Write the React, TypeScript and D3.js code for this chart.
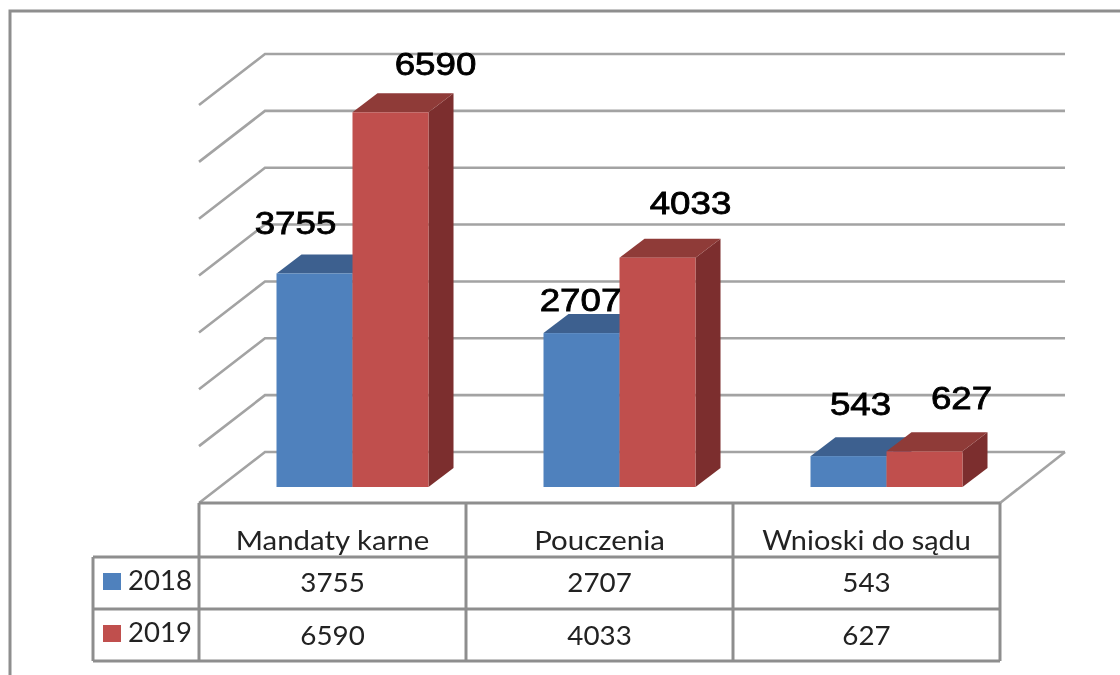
import React from 'react';
import * as d3 from 'd3';

const categories = ['Mandaty karne', 'Pouczenia', 'Wnioski do sądu'];
const seriesNames = ['2018', '2019'];
const values2018 = [3755, 2707, 543];
const values2019 = [6590, 4033, 627];
const gridTicks = [0, 1000, 2000, 3000, 4000, 5000, 6000, 7000];

const allValues = [values2018, values2019];

// colours per series: front, top, side
const colors = [
  { front: '#4f81bd', top: '#3d618f', side: '#2f4d73' },
  { front: '#c0504d', top: '#8f3a38', side: '#7b2f2d' },
];

// the data labels were dragged by hand in the original, so each has its own nudge
const labelNudge = [
  [[-19, -40], [-1, -22], [12, -41]],
  [[45, -37], [33, -44], [37, -42]],
];

const width = 1120;
const height = 675;
const floorFrontY = 503;
const floorBackY = 452;
const barBaseY = 487;
const plotLeft = 199;
const plotRight = 1000;
const wallDx = 66;
const barDx = 25;
const barDy = -19;
const grey = '#a3a3a3';
const tableGrey = '#8e8e8e';
const rowY = [503, 557, 609, 661];
const legendLeft = 93;

// height of a value in pixels
const h = d3.scaleLinear([0, 7000], [0, 398]);
const x0 = d3.scaleBand(categories, [plotLeft, plotRight]);
const x1 = d3.scaleBand(seriesNames, [77.5, 229.5]);

const poly = (pts: number[][]) => (d3.line()(pts as [number, number][]) as string) + 'Z';

// the source image was stretched sideways, text needs the same
const stretched = (x: number, k: number) => `translate(${x},0) scale(${k},1)`;

const App = () => {
  const edges = x0.domain().map(c => x0(c) as number).concat(plotRight);
  const cellBaseline = [592, 645];
  const legendBaseline = [590, 642];

  return (
    <svg
      width={width}
      height={height}
      viewBox={`0 0 ${width} ${height}`}
      style={{ position: 'absolute', left: 0, top: 0, background: '#fff' }}
    >
      <defs>
        <filter id="soft" x="-5%" y="-5%" width="110%" height="110%">
          <feGaussianBlur stdDeviation="0.7" />
        </filter>
      </defs>
      <g filter="url(#soft)">
        {/* outer frame */}
        <path d={`M10,${height} V11 H${width}`} fill="none" stroke={tableGrey} strokeWidth={3} />

        {/* walls */}
        {gridTicks.map(t => (
          <path
            key={t}
            d={d3.line()([
              [plotLeft, floorFrontY - h(t)],
              [plotLeft + wallDx, floorBackY - h(t)],
              [width - 55, floorBackY - h(t)],
            ]) as string}
            fill="none"
            stroke={grey}
            strokeWidth={2.6}
          />
        ))}
        {/* floor */}
        <path
          d={`M${plotRight},${floorFrontY} L${plotRight + wallDx - 1},${floorBackY}`}
          stroke={grey}
          strokeWidth={2.6}
          fill="none"
        />

        {/* bars */}
        {categories.map((c, ci) =>
          seriesNames.map((s, si) => {
            const v = allValues[si][ci];
            const left = (x0(c) as number) + (x1(s) as number);
            const right = left + x1.bandwidth();
            const top = barBaseY - h(v);
            return (
              <g key={c + s}>
                <path
                  d={poly([[right, top], [right + barDx, top + barDy], [right + barDx, barBaseY + barDy], [right, barBaseY]])}
                  fill={colors[si].side}
                />
                <path
                  d={poly([[left, top], [left + barDx, top + barDy], [right + barDx, top + barDy], [right, top]])}
                  fill={colors[si].top}
                />
                <rect x={left} y={top} width={right - left} height={barBaseY - top} fill={colors[si].front} />
              </g>
            );
          })
        )}

        {/* table grid */}
        <g stroke={tableGrey} strokeWidth={3} fill="none">
          {rowY.map((y, i) => (
            <line key={y} x1={i === 0 ? plotLeft : legendLeft} x2={plotRight} y1={y} y2={y} />
          ))}
          {edges.map(e => (
            <line key={e} x1={e} x2={e} y1={rowY[0]} y2={rowY[3]} />
          ))}
          <line x1={legendLeft} x2={legendLeft} y1={rowY[1]} y2={rowY[3]} />
        </g>

        {/* table text */}
        <g fontFamily="Lato" fontSize={27} fill="#222" textAnchor="middle">
          {categories.map((c, ci) => {
            const cx = (x0(c) as number) + x0.bandwidth() / 2;
            return (
              <g key={c}>
                <text transform={stretched(cx, ci === 2 ? 1.07 : 1.09)} y={550}>{c}</text>
                {seriesNames.map((s, si) => (
                  <text key={s} transform={stretched(cx, 1.03)} y={cellBaseline[si]}>{allValues[si][ci]}</text>
                ))}
              </g>
            );
          })}
        </g>

        {/* legend keys */}
        {seriesNames.map((s, si) => (
          <g key={s}>
            <rect x={103} y={legendBaseline[si] - 17} width={18} height={17} fill={colors[si].front} />
            <text transform={stretched(128, 1.02)} y={legendBaseline[si]} fontFamily="Lato" fontSize={27} fill="#222">{s}</text>
          </g>
        ))}

        {/* data labels */}
        <g fontFamily="Liberation Sans" fontSize={31} fill="#000" stroke="#000" strokeWidth={0.8} textAnchor="middle">
          {categories.map((c, ci) =>
            seriesNames.map((s, si) => {
              const v = allValues[si][ci];
              const cx = (x0(c) as number) + (x1(s) as number) + x1.bandwidth() / 2 + labelNudge[si][ci][0];
              const y = barBaseY - h(v) + labelNudge[si][ci][1];
              return (
                <text
                  key={c + s}
                  x={cx}
                  y={y}
                  textLength={String(v).length * 20.4}
                  lengthAdjust="spacingAndGlyphs"
                >
                  {v}
                </text>
              );
            })
          )}
        </g>
      </g>
    </svg>
  );
};

export default App;
